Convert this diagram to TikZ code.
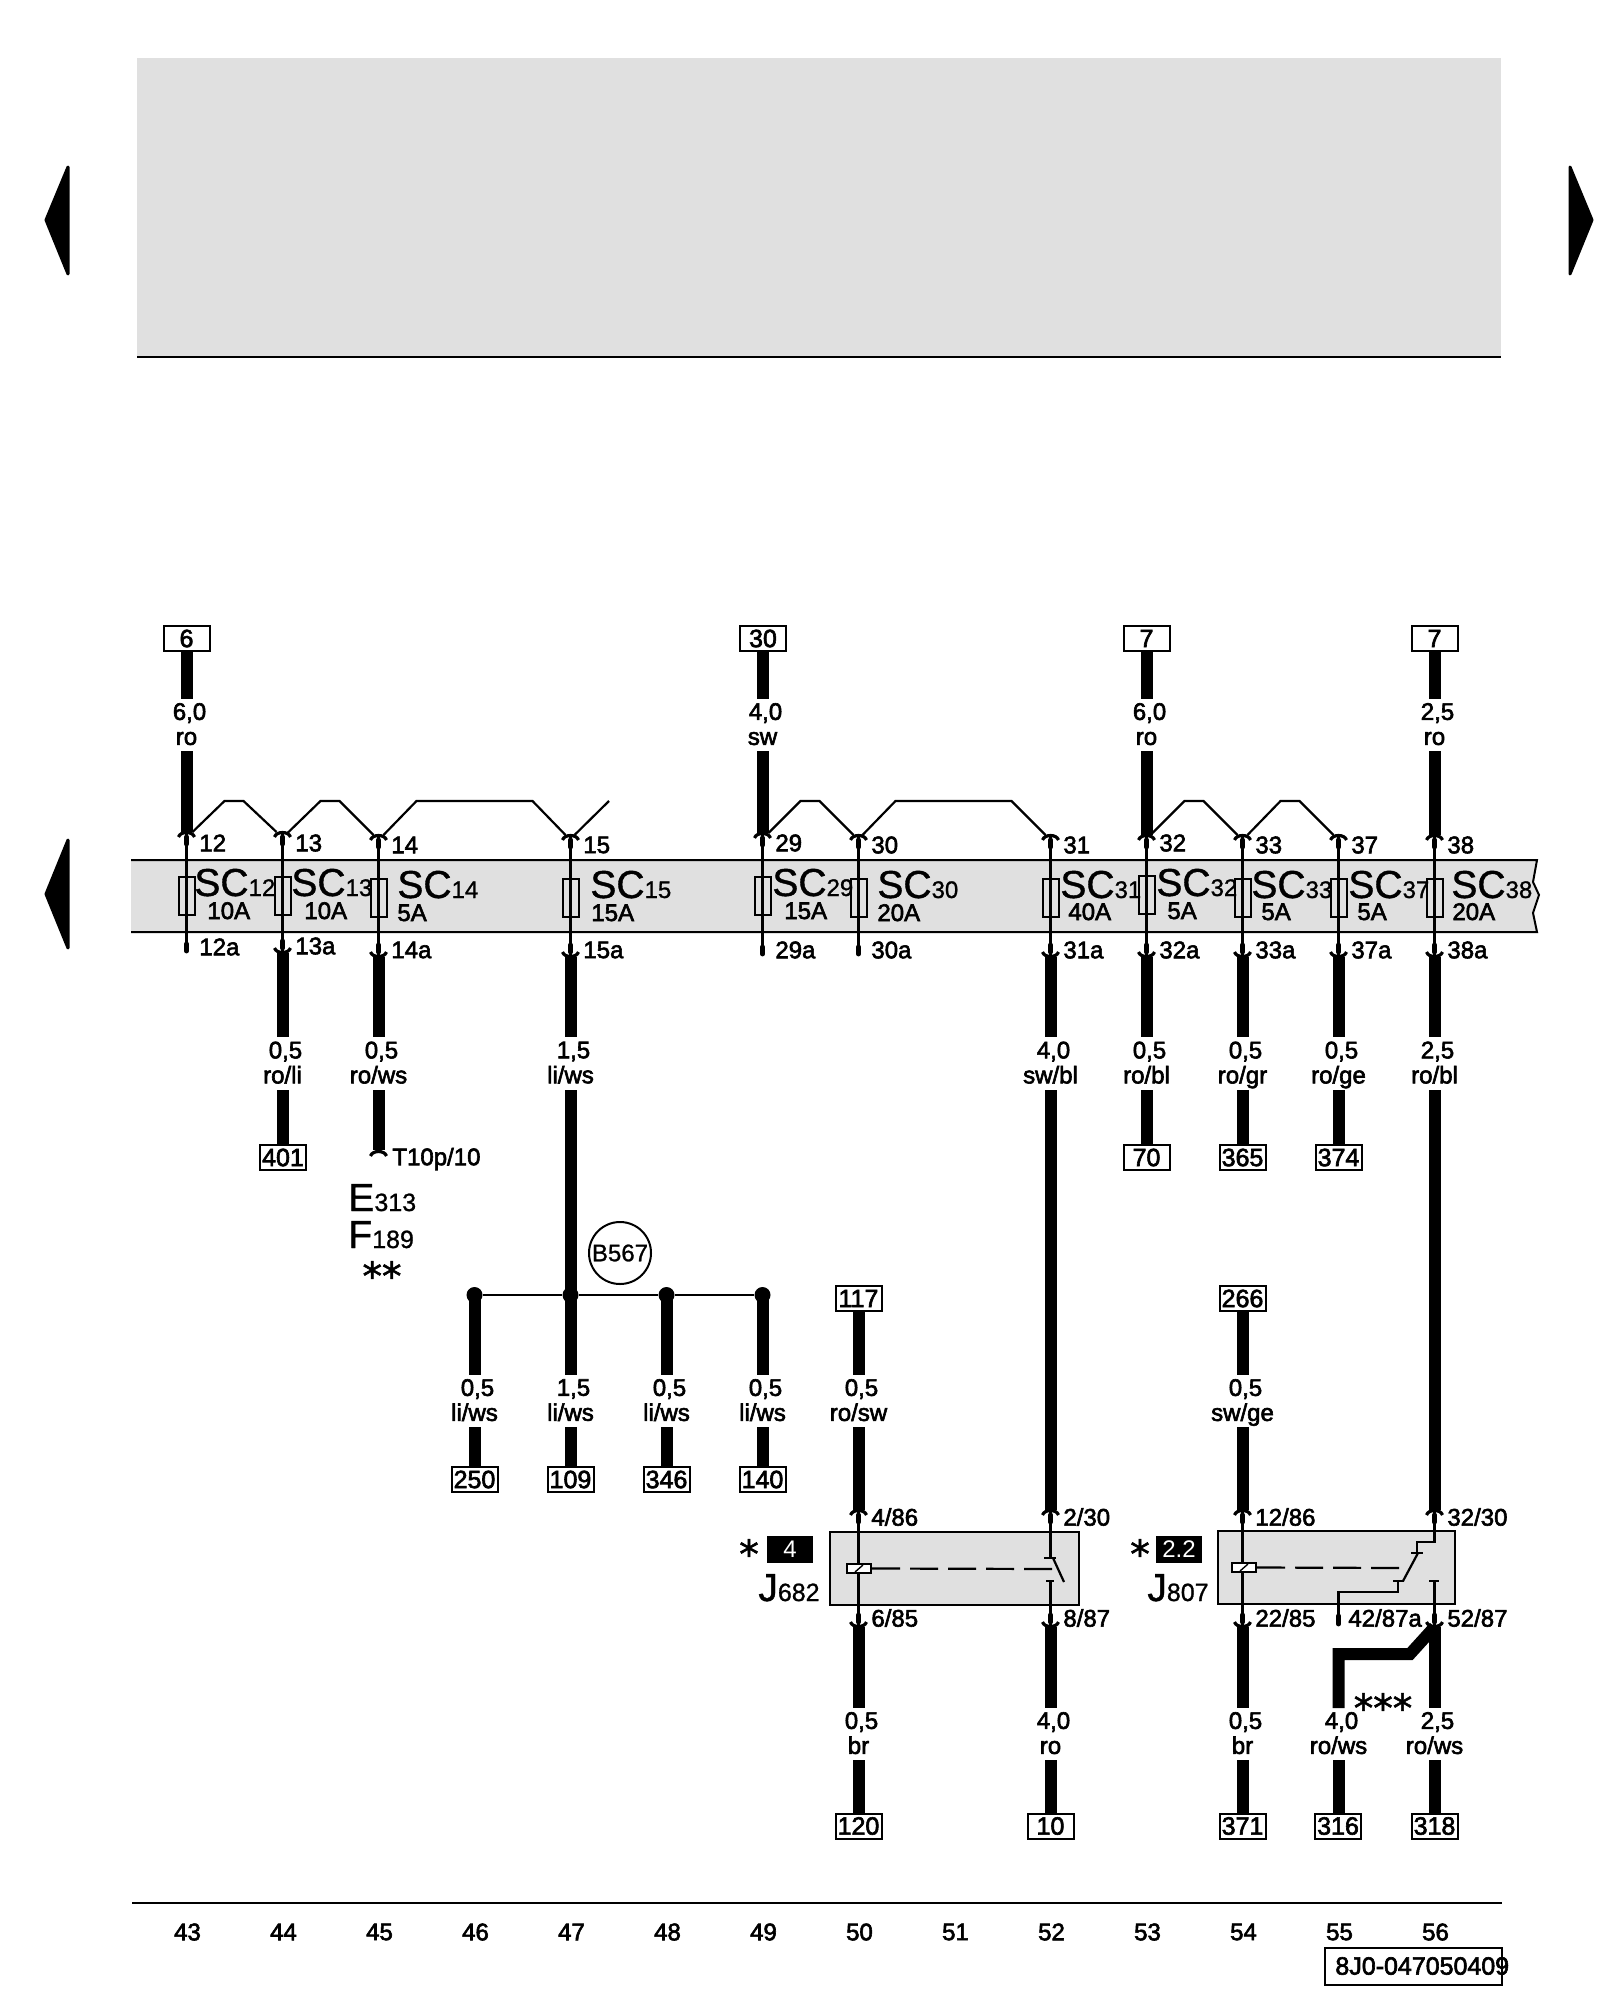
\documentclass[tikz,border=0pt]{standalone}
\usepackage{fontspec}
\setmainfont{Liberation Sans}
\newfontfamily\lf[FakeBold=2.5]{Liberation Sans}
\newfontfamily\mf[FakeBold=1]{Liberation Sans}
\newfontfamily\astf[FakeBold=1.5]{DejaVu Sans}
\definecolor{pan}{HTML}{E0E0E0}
\tikzset{
  wire/.style={line width=6pt,black},
  jump/.style={line width=1.1pt,black,line join=miter},
  thinl/.style={line width=1.1pt,black},
  stub/.style={line width=2.4pt,black,line cap=round},
  sock/.style={line width=1.6pt,black},
  tbox/.style={draw=black,line width=1pt,fill=white,inner sep=0pt,minimum height=12.5pt,minimum width=23pt,font=\lf\fontsize{12.5}{13}\selectfont},
  wlab/.style={inner sep=0pt,align=center,minimum width=10pt,font=\lf\fontsize{12}{12.5}\selectfont},
  pinl/.style={inner sep=0pt,anchor=west,font=\lf\fontsize{12}{13}\selectfont},
  sct/.style={inner sep=0pt,anchor=base west,font=\mf\fontsize{19.5}{20}\selectfont},
  amp/.style={inner sep=0pt,anchor=base west,font=\lf\fontsize{12}{13}\selectfont},
  fuse/.style={draw=black,line width=1pt,inner sep=0pt,minimum width=8pt,minimum height=19pt},
  blk/.style={fill=black,text=white,inner sep=0pt,minimum width=23pt,minimum height=13.5pt,font=\fontsize{12}{13}\selectfont},
  astx/.style={inner sep=0pt,anchor=base,font=\astf\fontsize{19.5}{20}\selectfont},
  relay/.style={draw=black,line width=1pt,fill=pan},
  coil/.style={draw=black,line width=1pt,fill=white,inner sep=0pt,minimum width=12pt,minimum height=4.5pt},
  ctc/.style={line width=1.1pt,black},
  dashl/.style={line width=1.1pt,black,dash pattern=on 14pt off 5pt},
  colnum/.style={inner sep=0pt,font=\lf\fontsize{12}{13}\selectfont},
  navtri/.style={fill=black,draw=black,line width=1.5pt,line join=round},
}
% top socket: name, x, y of crown, text, label y
\newcommand{\PinT}[5]{%
  \coordinate (#1) at (#2,#3);
  \draw[sock] (#2-8,#3+5) .. controls (#2-6,#3-1) and (#2+6,#3-1) .. (#2+8,#3+5);
  \draw[stub] (#2,#3+5) -- (#2,#3+12);
  \node[pinl] (#1t) at (#2+12.5,#5) {#4};
}
% bottom socket: name, x, y of cup, text, label y
\newcommand{\PinB}[5]{%
  \coordinate (#1) at (#2,#3);
  \draw[sock] (#2-8,#3-5) .. controls (#2-6,#3+1) and (#2+6,#3+1) .. (#2+8,#3-5);
  \draw[stub] (#2,#3-12) -- (#2,#3-5);
  \node[pinl] (#1t) at (#2+12.5,#5) {#4};
}
% bare stub: name, x, y of lower end, text, label y
\newcommand{\PinS}[5]{%
  \coordinate (#1) at (#2,#3);
  \draw[stub] (#2,#3-9) -- (#2,#3-2);
  \node[pinl] (#1t) at (#2+12.5,#5) {#4};
}
% wire label: name, x, gap top, gap bottom, line 1, line 2
\newcommand{\WLab}[6]{%
  \node[wlab,minimum height={(#4-#3)*0.5pt}] (#1) at (#2,{(#3+#4)/2-1}) {\hspace*{3pt}#5\\\smash{#6}};
}
\newcommand{\SCt}[4]{%
  \node[sct] (#1) at (#2,#3) {SC\fontsize{12}{13}\selectfont #4};
}
\begin{document}
\begin{tikzpicture}[x=0.5pt,y=-0.5pt]
\useasboundingbox (0,0) rectangle (1600,2000);
% header
\fill[pan] (137,58) rectangle (1501,357);
\draw[line width=1.2pt] (137,357) -- (1501,357);
% navigation triangles
\path[navtri] (46,220) -- (68,167) -- (68,274) -- cycle;
\path[navtri] (46,894) -- (68,840) -- (68,948) -- cycle;
\path[navtri] (1592,220) -- (1570,167) -- (1570,274) -- cycle;
% fuse band
\fill[pan] (131,860) -- (1537,860) -- (1533,882) -- (1539,895) -- (1533,913) -- (1537,932) -- (131,932) -- cycle;
\draw[line width=1pt] (131,860) -- (1537,860) -- (1533,882) -- (1539,895) -- (1533,913) -- (1537,932) -- (131,932);
% fuses
\node[fuse] (f12) at (186.5,896) {};
\node[fuse] (f13) at (282.5,896) {};
\node[fuse] (f14) at (378.5,897.5) {};
\node[fuse] (f15) at (570.5,897.5) {};
\node[fuse] (f29) at (762.5,896) {};
\node[fuse] (f30) at (858.5,897.5) {};
\node[fuse] (f31) at (1050.5,897.5) {};
\node[fuse] (f32) at (1146.5,895) {};
\node[fuse] (f33) at (1242.5,897.5) {};
\node[fuse] (f37) at (1338.5,897.5) {};
\node[fuse] (f38) at (1434.5,897.5) {};
% fuse texts
\SCt{s12}{194}{896}{12}
\SCt{s13}{291}{896}{13}
\SCt{s14}{397}{898}{14}
\SCt{s15}{590}{898}{15}
\SCt{s29}{772}{896}{29}
\SCt{s30}{877}{898}{30}
\SCt{s31}{1060}{898}{31}
\SCt{s32}{1156}{896}{32}
\SCt{s33}{1251}{898}{33}
\SCt{s37}{1348}{898}{37}
\SCt{s38}{1451}{898}{38}
\node[amp] (a12) at (207,919) {10A};
\node[amp] (a13) at (304,919) {10A};
\node[amp] (a14) at (397,921) {5A};
\node[amp] (a15) at (591,921) {15A};
\node[amp] (a29) at (784,919) {15A};
\node[amp] (a30) at (877,921) {20A};
\node[amp] (a31) at (1068,920) {40A};
\node[amp] (a32) at (1167,919) {5A};
\node[amp] (a33) at (1261,920) {5A};
\node[amp] (a37) at (1357,920) {5A};
\node[amp] (a38) at (1452,920) {20A};
% pins at top of band
\PinT{p12}{186.5}{832}{12}{843}
\PinT{p13}{282.5}{832}{13}{843}
\PinT{p14}{378.5}{835}{14}{845}
\PinT{p15}{570.5}{835}{15}{845}
\PinT{p29}{762.5}{833}{29}{843}
\PinT{p30}{858.5}{835}{30}{845}
\PinT{p31}{1050.5}{835}{31}{845}
\PinT{p32}{1146.5}{835}{32}{843}
\PinT{p33}{1242.5}{835}{33}{845}
\PinT{p37}{1338.5}{835}{37}{845}
\PinT{p38}{1434.5}{835}{38}{845}
% pins below band
\PinS{q12}{186.5}{953}{12a}{947}
\PinB{q13}{282.5}{953}{13a}{946}
\PinB{q14}{378.5}{957}{14a}{950}
\PinB{q15}{570.5}{957}{15a}{950}
\PinS{q29}{762.5}{956}{29a}{950}
\PinS{q30}{858.5}{956}{30a}{950}
\PinB{q31}{1050.5}{957}{31a}{950}
\PinB{q32}{1146.5}{957}{32a}{950}
\PinB{q33}{1242.5}{957}{33a}{950}
\PinB{q37}{1338.5}{957}{37a}{950}
\PinB{q38}{1434.5}{957}{38a}{950}
% through lines
\foreach \n in {12,13,14,15,29,30,31,32,33,37,38} \draw[thinl] (p\n) -- (q\n);
% jumpers
\draw[jump] ([shift={(6,0)}]p12) -- ++(32,-31) -- ++(19,0) -- ([shift={(-6,0)}]p13);
\draw[jump] ([shift={(5,1)}]p13) -- ++(33,-32) -- ++(19,0) -- ([shift={(-5,0)}]p14);
\draw[jump] ([shift={(5,0)}]p14) -- ++(33,-34) -- ++(116,0) -- ([shift={(-5,0)}]p15);
\coordinate (open15) at (609,801);
\draw[jump] ([shift={(4,0)}]p15) -- (open15);
\draw[jump] ([shift={(6,0)}]p29) -- ++(32,-32) -- ++(19,0) -- ([shift={(-5,0)}]p30);
\draw[jump] ([shift={(4,0)}]p30) -- ++(33,-34) -- ++(116,0) -- ([shift={(-5,0)}]p31);
\draw[jump] ([shift={(6,-2)}]p32) -- ++(32,-32) -- ++(19,0) -- ([shift={(-5,0)}]p33);
\draw[jump] ([shift={(5,0)}]p33) -- ++(33,-34) -- ++(19,0) -- ([shift={(-5,0)}]p37);
% top terminals and wires
\node[tbox] (b6) at (186.5,638.5) {6};
\node[tbox] (b30) at (763,638.5) {30};
\node[tbox] (b7a) at (1146.5,638.5) {7};
\node[tbox] (b7b) at (1434.5,638.5) {7};
\WLab{l6}{186.5}{699}{751}{6,0}{ro}
\WLab{l30}{762.5}{699}{751}{4,0}{sw}
\WLab{l7a}{1146.5}{699}{751}{6,0}{ro}
\WLab{l7b}{1434.5}{699}{751}{2,5}{ro}
\draw[wire] (p12 |- b6.south) -- (p12 |- 0,699);
\draw[wire] (p12 |- 0,751) -- (p12);
\draw[wire] (p29 |- b30.south) -- (p29 |- 0,699);
\draw[wire] (p29 |- 0,751) -- (p29);
\draw[wire] (p32 |- b7a.south) -- (p32 |- 0,699);
\draw[wire] (p32 |- 0,751) -- (p32);
\draw[wire] (p38 |- b7b.south) -- (p38 |- 0,699);
\draw[wire] (p38 |- 0,751) -- (p38);
% lower wires from band
\WLab{l13}{282.5}{1037}{1090}{0,5}{ro/li}
\WLab{l14}{378.5}{1037}{1090}{0,5}{ro/ws}
\WLab{l15}{570.5}{1037}{1090}{1,5}{li/ws}
\WLab{l31}{1050.5}{1037}{1090}{4,0}{sw/bl}
\WLab{l32}{1146.5}{1037}{1090}{0,5}{ro/bl}
\WLab{l33}{1242.5}{1037}{1090}{0,5}{ro/gr}
\WLab{l37}{1338.5}{1037}{1090}{0,5}{ro/ge}
\WLab{l38}{1434.5}{1037}{1090}{2,5}{ro/bl}
\foreach \n in {13,14,15,31,32,33,37,38} \draw[wire] (q\n) -- (q\n |- 0,1037);
\node[tbox] (b401) at (283,1157.5) {401};
\node[tbox] (b70) at (1146.5,1157.5) {70};
\node[tbox] (b365) at (1242.5,1157.5) {365};
\node[tbox] (b374) at (1338.5,1157.5) {374};
\draw[wire] (q13 |- 0,1090) -- (q13 |- b401.north);
\draw[wire] (q32 |- 0,1090) -- (q32 |- b70.north);
\draw[wire] (q33 |- 0,1090) -- (q33 |- b365.north);
\draw[wire] (q37 |- 0,1090) -- (q37 |- b374.north);
% T10p/10 end
\coordinate (t10) at (378.5,1150);
\draw[wire] (q14 |- 0,1090) -- (t10);
\draw[sock] (370.5,1156) .. controls (372.5,1150) and (384.5,1150) .. (386.5,1156);
\node[pinl] (t10t) at (392,1159) {T10p/10};
\node[inner sep=0pt,anchor=base west,font=\mf\fontsize{19.5}{20}\selectfont] (e313) at (348,1211) {E\fontsize{12.5}{13}\selectfont 313};
\node[inner sep=0pt,anchor=base west,font=\mf\fontsize{19.5}{20}\selectfont] (f189) at (348,1248) {F\fontsize{12.5}{13}\selectfont 189};
\node[astx] (st2) at (382,1290) {**};
% bus
\node[circle,draw=black,line width=1pt,inner sep=0pt,minimum size=31pt,font=\mf\fontsize{12}{13}\selectfont] (b567) at (620,1253) {B567};
\node[circle,fill=black,inner sep=0pt,minimum size=8pt] (d46) at (474.5,1295) {};
\node[circle,fill=black,inner sep=0pt,minimum size=8pt] (d47) at (570.5,1295) {};
\node[circle,fill=black,inner sep=0pt,minimum size=8pt] (d48) at (666.5,1295) {};
\node[circle,fill=black,inner sep=0pt,minimum size=8pt] (d49) at (762.5,1295) {};
\draw[line width=1pt] (d46) -- (d47) -- (d48) -- (d49);
\draw[wire] (q15 |- 0,1090) -- (d47.center);
\WLab{l46}{474.5}{1375}{1427}{0,5}{li/ws}
\WLab{l47}{570.5}{1375}{1427}{1,5}{li/ws}
\WLab{l48}{666.5}{1375}{1427}{0,5}{li/ws}
\WLab{l49}{762.5}{1375}{1427}{0,5}{li/ws}
\node[tbox] (b250) at (474.5,1479.5) {250};
\node[tbox] (b109) at (570.5,1479.5) {109};
\node[tbox] (b346) at (666.5,1479.5) {346};
\node[tbox] (b140) at (762.5,1479.5) {140};
\draw[wire] (d46.center) -- (d46 |- 0,1375);
\draw[wire] (d47.center) -- (d47 |- 0,1375);
\draw[wire] (d48.center) -- (d48 |- 0,1375);
\draw[wire] (d49.center) -- (d49 |- 0,1375);
\draw[wire] (d46 |- 0,1427) -- (d46 |- b250.north);
\draw[wire] (d47 |- 0,1427) -- (d47 |- b109.north);
\draw[wire] (d48 |- 0,1427) -- (d48 |- b346.north);
\draw[wire] (d49 |- 0,1427) -- (d49 |- b140.north);
% relay J682
\node[relay,minimum width=124.5pt,minimum height=36.5pt,inner sep=0pt] (r682) at (954.5,1568.5) {};
\PinT{a4}{858.5}{1510}{4/86}{1517}
\PinT{a2}{1050.5}{1510}{2/30}{1517}
\PinB{a6}{858.5}{1627}{6/85}{1618}
\PinB{a8}{1050.5}{1627}{8/87}{1618}
\draw[thinl] (a4) -- (a6);
\node[coil] (c682) at (859,1568.5) {};
\draw[line width=0.7pt] (855,1572) -- (863,1565);
\draw[dashl] (c682.east) -- (1055,1569);
\draw[thinl] (a2) -- (1050.5,1558);
\draw[ctc] (1044,1558) -- (1056,1558);
\draw[ctc] (1053,1558) -- (1064,1582);
\draw[ctc] (1046,1581) -- (1054,1581);
\draw[thinl] (1050.5,1581) -- (a8);
\node[blk] (k4) at (790,1549.5) {4};
\node[astx] (ast1) at (749,1568) {*};
\node[inner sep=0pt,anchor=base west,font=\mf\fontsize{19.5}{20}\selectfont] (j682) at (758,1601) {J\fontsize{12.5}{13}\selectfont 682};
% relay J807
\node[relay,minimum width=118.5pt,minimum height=36.5pt,inner sep=0pt] (r807) at (1336.5,1567.5) {};
\PinT{a12}{1242.5}{1510}{12/86}{1517}
\PinT{a32}{1434.5}{1510}{32/30}{1517}
\PinB{a22}{1242.5}{1627}{22/85}{1618}
\coordinate (a42) at (1338.5,1625);
\draw[stub] (1338.5,1616) -- (1338.5,1624);
\node[pinl] (a42t) at (1348,1618) {42/87a};
\PinB{a52}{1434.5}{1627}{52/87}{1618}
\draw[thinl] (a12) -- (a22);
\node[coil] (c807) at (1244,1567.5) {};
\draw[line width=0.7pt] (1240,1571) -- (1248,1564);
\draw[dashl] (c807.east) -- (1407,1568);
\draw[thinl] (a32) -- (1434.5,1542) -- (1417,1542) -- (1417,1553);
\draw[ctc] (1411,1553) -- (1423,1553);
\draw[ctc] (1418,1553) -- (1403,1581);
\draw[ctc] (1393,1581) -- (1404,1581);
\draw[thinl] (1398,1581) -- (1398,1592) -- (1338.5,1592) -- (a42);
\draw[ctc] (1429,1581) -- (1439,1581);
\draw[thinl] (1434.5,1581) -- (a52);
\node[blk] (k22) at (1179,1549.5) {2.2};
\node[astx] (ast2) at (1140,1568) {*};
\node[inner sep=0pt,anchor=base west,font=\mf\fontsize{19.5}{20}\selectfont] (j807) at (1147,1601) {J\fontsize{12.5}{13}\selectfont 807};
% wires above relays
\node[tbox] (b117) at (858.5,1298.5) {117};
\node[tbox] (b266) at (1242.5,1298.5) {266};
\WLab{l50}{858.5}{1375}{1427}{0,5}{ro/sw}
\WLab{l54}{1242.5}{1375}{1427}{0,5}{sw/ge}
\draw[wire] (a4 |- b117.south) -- (a4 |- 0,1375);
\draw[wire] (a4 |- 0,1427) -- (a4);
\draw[wire] (a12 |- b266.south) -- (a12 |- 0,1375);
\draw[wire] (a12 |- 0,1427) -- (a12);
\draw[wire] (q31 |- 0,1090) -- (a2);
\draw[wire] (q38 |- 0,1090) -- (a32);
% wires below relays
\WLab{m50}{858.5}{1708}{1760}{0,5}{br}
\WLab{m52}{1050.5}{1708}{1760}{4,0}{ro}
\WLab{m54}{1242.5}{1708}{1760}{0,5}{br}
\WLab{m55}{1338.5}{1708}{1760}{4,0}{ro/ws}
\WLab{m56}{1434.5}{1708}{1760}{2,5}{ro/ws}
\node[tbox] (b120) at (858.5,1826) {120};
\node[tbox] (b10) at (1050.5,1826) {10};
\node[tbox] (b371) at (1242.5,1826) {371};
\node[tbox] (b316) at (1338,1826) {316};
\node[tbox] (b318) at (1434.5,1826) {318};
\draw[wire] (a6) -- (a6 |- 0,1708);
\draw[wire] (a6 |- 0,1760) -- (a6 |- b120.north);
\draw[wire] (a8) -- (a8 |- 0,1708);
\draw[wire] (a8 |- 0,1760) -- (a8 |- b10.north);
\draw[wire] (a22) -- (a22 |- 0,1708);
\draw[wire] (a22 |- 0,1760) -- (a22 |- b371.north);
\draw[wire] (a52) -- (a52 |- 0,1708);
\draw[wire] (a52 |- 0,1760) -- (a52 |- b318.north);
\draw[wire] (a52) -- (1410,1654) -- (1338.5,1654) -- (a42 |- 0,1708);
\draw[wire] (a42 |- 0,1760) -- (a42 |- b316.north);
\node[astx] (st3) at (1383,1722) {***};
% footer
\draw[line width=1pt] (132,1903) -- (1502,1903);
\foreach \n [evaluate=\n as \xx using {187.5+96*(\n-43)}] in {43,...,56} \node[colnum] (c\n) at (\xx,1932) {\n};
\node[draw=black,line width=1pt,inner sep=0pt,minimum width=88.5pt,minimum height=18.5pt] (doc) at (1413.5,1966.5) {};
\node[inner sep=0pt,anchor=west,font=\lf\fontsize{12.5}{13}\selectfont] (doct) at (1335,1966) {8J0-047050409};
\end{tikzpicture}
\end{document}
